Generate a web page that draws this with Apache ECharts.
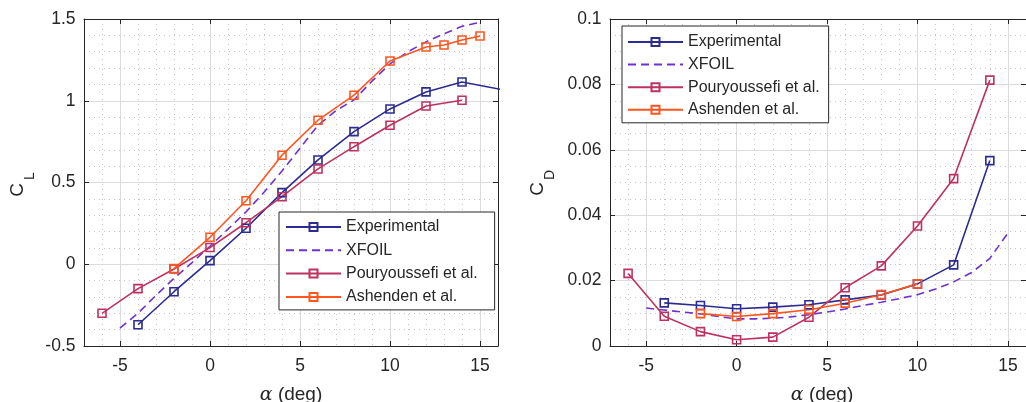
<!DOCTYPE html>
<html>
<head>
<meta charset="utf-8">
<script src="https://cdn.jsdelivr.net/npm/echarts@6/dist/echarts.min.js"></script>
<style>
  html, body { margin: 0; padding: 0; background: #fff; }
  #chart { width: 1026px; height: 402px; }
</style>
</head>
<body>
<div id="chart"></div>
<script>
// ---- Data: lift (CL) and drag (CD) coefficient versus angle of attack ----
const seriesNames = ['Experimental', 'XFOIL', 'Pouryoussefi et al.', 'Ashenden et al.'];

const alphaExpCl = [-4, -2, 0, 2, 4, 6, 8, 10, 12, 14, 18];
const clExp      = [-0.37, -0.168, 0.022, 0.22, 0.438, 0.638, 0.811, 0.95, 1.054, 1.115, 1.03];
const alphaExpCd = [-4, -2, 0, 2, 4, 6, 8, 10, 12, 14];
const cdExp      = [0.0132, 0.0124, 0.0114, 0.0119, 0.0126, 0.0141, 0.0156, 0.019, 0.0248, 0.0567];

const alphaXfoil = [-5, -4, -3, -2, -1, 0, 1, 2, 3, 4, 5, 6, 7, 8, 9, 10, 11, 12, 13, 14, 15];
const clXfoil    = [-0.39, -0.30, -0.19, -0.086, 0.01, 0.11, 0.215, 0.32, 0.44, 0.57, 0.71, 0.85, 0.94, 1.005, 1.12, 1.225, 1.30, 1.36, 1.41, 1.455, 1.48];
const cdXfoil    = [0.0116, 0.0110, 0.0104, 0.0098, 0.0090, 0.0083, 0.0083, 0.0085, 0.0089, 0.0096, 0.0104, 0.0113, 0.0124, 0.0134, 0.0145, 0.0157, 0.0174, 0.0196, 0.0225, 0.0268, 0.0345];

const alphaPour = [-6, -4, -2, 0, 2, 4, 6, 8, 10, 12, 14];
const clPour    = [-0.30, -0.149, -0.029, 0.102, 0.254, 0.413, 0.583, 0.719, 0.85, 0.968, 1.003];
const cdPour    = [0.0222, 0.0091, 0.0044, 0.0019, 0.0027, 0.0088, 0.0178, 0.0245, 0.0367, 0.0512, 0.0813];

const alphaAshCl = [-2, 0, 2, 4, 6, 8, 10, 12, 13, 14, 15];
const clAsh      = [-0.027, 0.165, 0.388, 0.667, 0.881, 1.034, 1.243, 1.329, 1.341, 1.372, 1.396];
const alphaAshCd = [-2, 0, 2, 4, 6, 8, 10];
const cdAsh      = [0.0099, 0.009, 0.0099, 0.0111, 0.0131, 0.0157, 0.019];

const xTickValues = [-5, 0, 5, 10, 15];

// ---- Styling ----
const INK = '#262626';
const FONT = '"Liberation Sans", Arial, Helvetica, sans-serif';
const COLORS = {
  'Experimental': '#2b2b92',
  'XFOIL': '#6e32d2',
  'Pouryoussefi et al.': '#be325f',
  'Ashenden et al.': '#ff5520'
};
const MAJOR_GRID = { color: '#dcdcdc', width: 1 };
const MINOR_GRID = { color: '#c4c4c4', width: 1, type: [1, 4] };

function xAxesFor(g) {
  const base = { gridIndex: g, type: 'value', min: -7, max: 16 };
  return [
    Object.assign({}, base, {
      position: 'bottom', z: 3,
      axisLine: { show: true, onZero: false, lineStyle: { color: INK, width: 1 } },
      axisTick: { show: true, inside: true, length: 5, customValues: xTickValues, lineStyle: { color: INK } },
      axisLabel: { show: true, customValues: xTickValues, color: INK, fontSize: 17.5, fontFamily: FONT, margin: 11.5 },
      splitLine: { show: true, lineStyle: MAJOR_GRID }
    }),
    Object.assign({}, base, {
      position: 'top', z: 3,
      axisLine: { show: true, onZero: false, lineStyle: { color: INK, width: 1 } },
      axisTick: { show: true, inside: true, length: 5, customValues: xTickValues, lineStyle: { color: INK } },
      axisLabel: { show: false },
      splitLine: { show: false }
    }),
    // one-degree minor grid
    Object.assign({}, base, {
      position: 'bottom', interval: 1, z: 1,
      axisLine: { show: false, onZero: false },
      axisTick: { show: false },
      axisLabel: { show: false },
      splitLine: { show: true, lineStyle: MINOR_GRID }
    })
  ];
}

function yAxesFor(g, min, max, interval, minorSplit) {
  const base = { gridIndex: g, type: 'value', min: min, max: max, interval: interval };
  return [
    Object.assign({}, base, {
      position: 'left', z: 3,
      axisLine: { show: true, onZero: false, lineStyle: { color: INK, width: 1 } },
      axisTick: { show: true, inside: true, length: 5, lineStyle: { color: INK } },
      axisLabel: { show: true, color: INK, fontSize: 17.5, fontFamily: FONT, margin: 8.5 },
      splitLine: { show: true, lineStyle: MAJOR_GRID },
      minorTick: { show: false, splitNumber: minorSplit },
      minorSplitLine: { show: true, lineStyle: MINOR_GRID }
    }),
    Object.assign({}, base, {
      position: 'right', z: 3,
      axisLine: { show: true, onZero: false, lineStyle: { color: INK, width: 1 } },
      axisTick: { show: true, inside: true, length: 5, lineStyle: { color: INK } },
      axisLabel: { show: false },
      splitLine: { show: false }
    })
  ];
}

function curve(name, xs, ys, xIndex, yIndex, dashed) {
  const c = COLORS[name];
  return {
    name: name, type: 'line', xAxisIndex: xIndex, yAxisIndex: yIndex,
    data: xs.map((a, i) => [a, ys[i]]),
    symbol: dashed ? 'none' : 'rect', symbolSize: 8,
    lineStyle: { color: c, width: 1.6, type: dashed ? [8, 5] : 'solid' },
    itemStyle: dashed
      ? { color: 'rgba(255,255,255,0)', borderColor: 'rgba(255,255,255,0)', borderWidth: 0 }
      : { color: 'rgba(255,255,255,0)', borderColor: c, borderWidth: 1.6 },
    emphasis: { disabled: true },
    clip: true, animation: false
  };
}

function legendAt(left, top, padding, gap) {
  return {
    data: seriesNames, orient: 'vertical', left: left, top: top,
    itemWidth: 55, itemHeight: 10, itemGap: gap, padding: padding,
    backgroundColor: '#ffffff', borderColor: INK, borderWidth: 1, borderRadius: 0,
    selectedMode: false,
    textStyle: { color: INK, fontSize: 16, fontFamily: FONT }
  };
}

function axisTitle(x, y, main, sub) {
  return [
    { type: 'text', x: x, y: y, rotation: Math.PI / 2, z: 10,
      style: { text: main, fill: INK, fontSize: 19, fontFamily: FONT, align: 'center', verticalAlign: 'middle' } },
    { type: 'text', x: x + 12.5, y: y - 14, rotation: Math.PI / 2, z: 10,
      style: { text: sub, fill: INK, fontSize: 14, fontFamily: FONT, align: 'center', verticalAlign: 'middle' } }
  ];
}

function alphaTitle(x, y) {
  return {
    type: 'text', x: x, y: y, z: 10,
    style: {
      text: '{a|α} (deg)', fill: INK, fontSize: 19, fontFamily: FONT,
      align: 'center', verticalAlign: 'middle',
      rich: { a: { fontFamily: '"DejaVu Serif", "Liberation Serif", serif', fontStyle: 'italic', fontSize: 19, fill: INK } }
    }
  };
}

const chart = echarts.init(document.getElementById('chart'), null, { renderer: 'canvas' });
chart.setOption({
  backgroundColor: '#ffffff',
  animation: false,
  grid: [
    { left: 84, top: 19, width: 414, height: 327 },
    { left: 610, top: 19, width: 425, height: 327 }
  ],
  xAxis: xAxesFor(0).concat(xAxesFor(1)),
  yAxis: yAxesFor(0, -0.5, 1.5, 0.5, 5).concat(yAxesFor(1, 0, 0.1, 0.02, 4)),
  legend: [
    legendAt(279, 212, [7, 17, 5, 6], 7.3),
    legendAt(622, 26, [8, 9, 5, 5], 6.6)
  ],
  series: [
    curve('Experimental', alphaExpCl, clExp, 0, 0, false),
    curve('XFOIL', alphaXfoil, clXfoil, 0, 0, true),
    curve('Pouryoussefi et al.', alphaPour, clPour, 0, 0, false),
    curve('Ashenden et al.', alphaAshCl, clAsh, 0, 0, false),
    curve('Experimental', alphaExpCd, cdExp, 3, 2, false),
    curve('XFOIL', alphaXfoil, cdXfoil, 3, 2, true),
    curve('Pouryoussefi et al.', alphaPour, cdPour, 3, 2, false),
    curve('Ashenden et al.', alphaAshCd, cdAsh, 3, 2, false)
  ],
  graphic: [].concat(
    axisTitle(17.5, 190, 'C', 'L'),
    axisTitle(538, 189, 'C', 'D'),
    [alphaTitle(291, 395), alphaTitle(822, 395)]
  )
});
</script>
</body>
</html>
